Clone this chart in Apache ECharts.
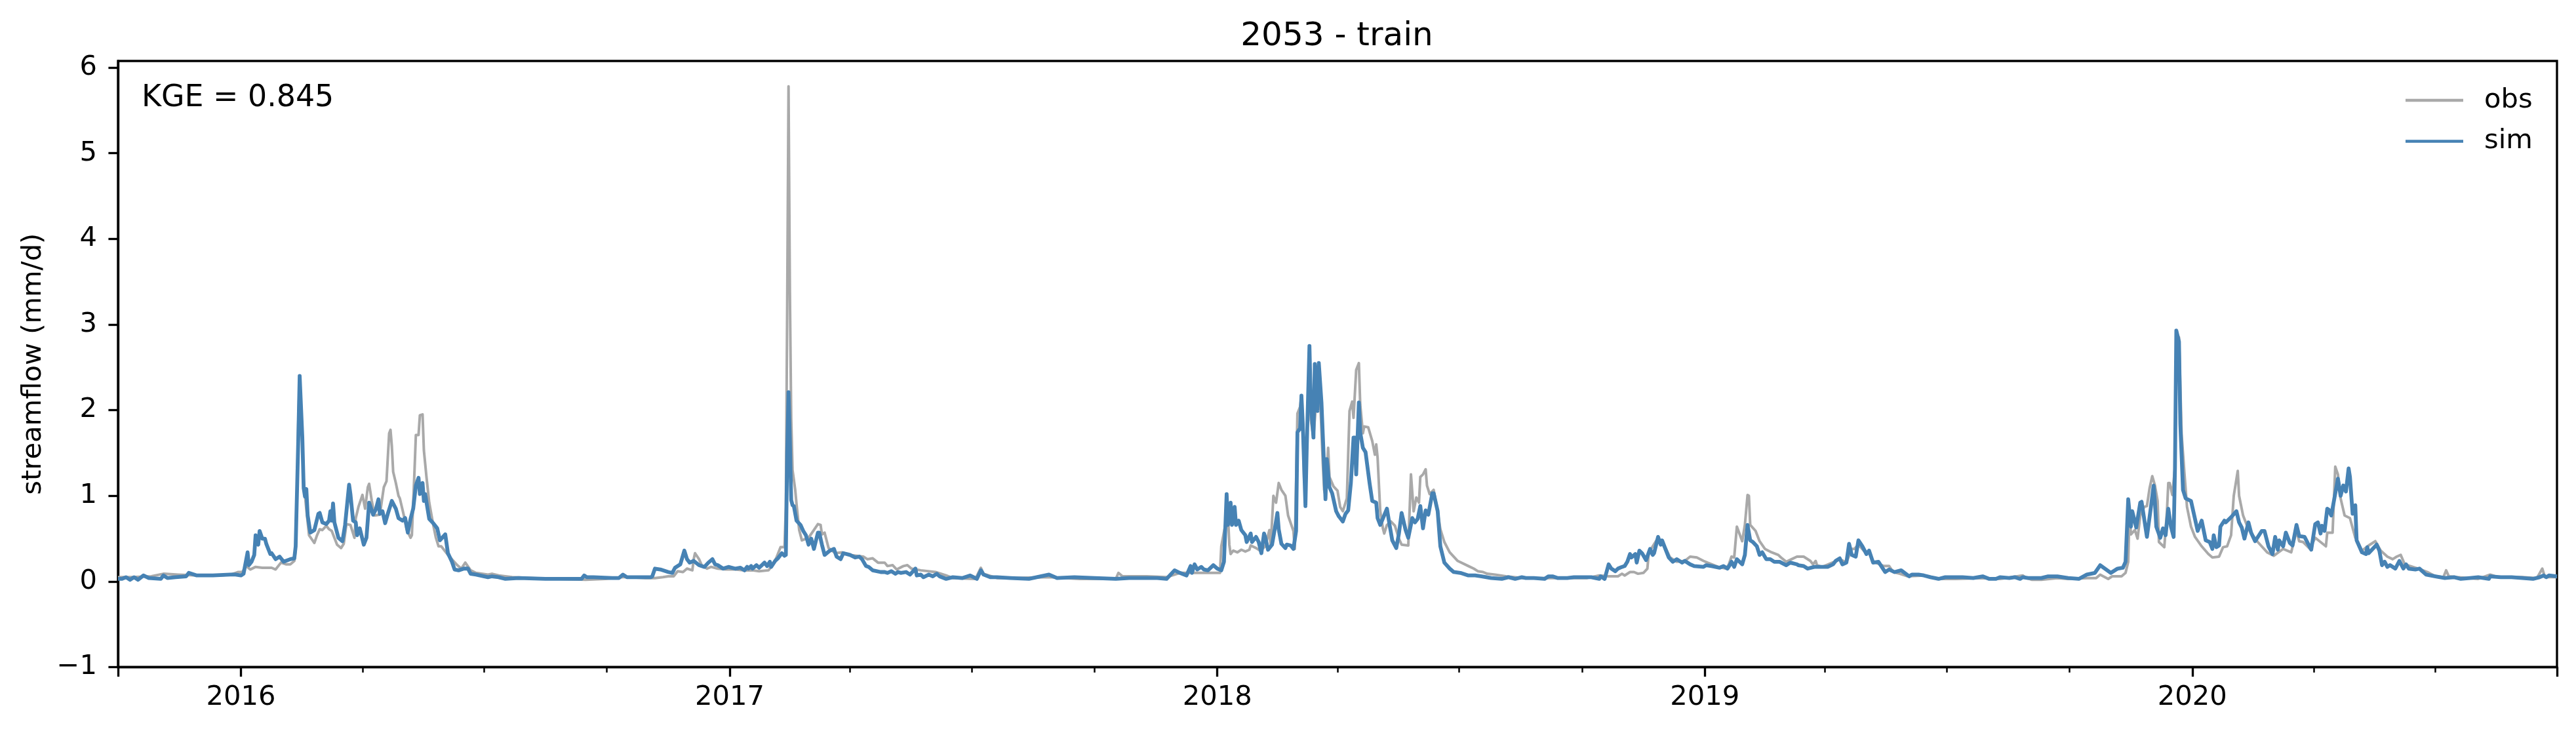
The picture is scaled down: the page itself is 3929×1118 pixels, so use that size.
<!DOCTYPE html>
<html>
<head>
<meta charset="utf-8">
<style>html,body{margin:0;padding:0;background:#fff}#chart{width:3929px;height:1118px}</style>
<script src="https://cdn.jsdelivr.net/npm/echarts@6/dist/echarts.min.js"></script>
</head>
<body>
<div id="chart"></div>
<script>
// readings from the picture: [days after 2015-10-01, streamflow mm/d]
const obsReadings = [
[0,.05],[10,.05],[25,.06],[34,.09],[45,.08],[60,.07],[75,.07],[84,.08],[88,.10],[90,.11],[93,.11],[96,.18],[99,.14],[103,.17],[108,.16],[115,.16],[118,.14],[122,.22],[126,.20],[129,.20],[132,.24],[133,.36],[134,1.0],[135,1.9],[136,2.38],[137,2.0],[139,1.17],[141,.84],[143,.54],[147,.45],[149,.54],[151,.61],[153,.60],[156,.65],[158,.61],[160,.59],[162,.51],[164,.43],[167,.39],[169,.44],[171,.67],[174,.66],[177,.51],[178,.74],[180,.87],[183,1.01],[185,.85],[187,1.10],[188,1.14],[190,.94],[192,.77],[196,.78],[199,1.10],[201,1.17],[203,1.73],[204,1.77],[205,1.58],[206,1.28],[208,1.15],[210,1.0],[211,.97],[214,.77],[216,.61],[219,.51],[220,.54],[222,1.30],[223,1.71],[225,1.71],[226,1.94],[228,1.95],[229,1.53],[231,1.21],[233,.92],[236,.66],[238,.51],[240,.41],[242,.41],[247,.31],[254,.19],[257,.15],[260,.22],[264,.13],[268,.10],[277,.08],[280,.09],
[285,.07],[295,.05],[310,.04],[330,.03],[350,.02],[365,.03],[378,.05],[381,.05],[395,.04],[402,.04],[408,.05],
[412,.06],[416,.06],[419,.12],[423,.11],[426,.15],[430,.13],[431,.26],[432,.33],[435,.26],[437,.19],[441,.15],[444,.17],[449,.15],[455,.14],[462,.14],[468,.13],[475,.13],[480,.12],[487,.13],[490,.19],[493,.28],[496,.40],[499,.40],[500,.87],[501,3.2],[502,5.78],[503,3.4],[504,1.9],[505,1.30],[507,1.07],[508,.9],[510,.60],[512,.48],[517,.51],[521,.60],[524,.67],[526,.66],[527,.55],[529,.57],[532,.39],[537,.33],[542,.34],[548,.31],[558,.29],[561,.26],[565,.27],[569,.22],[574,.22],[576,.18],[580,.19],[583,.14],[588,.18],[591,.19],[594,.15],[601,.13],[612,.11],[620,.07],[625,.04],[642,.03],[646,.16],[648,.09],[658,.04],
[668,.04],[697,.05],[720,.03],[747,.03],[749,.10],[752,.06],[770,.06],[785,.05],
[795,.10],[805,.10],[812,.10],[818,.10],[825,.10],[826,.41],[829,.66],[831,.77],[832,.43],[833,.32],[835,.36],[838,.34],[841,.37],[844,.35],[847,.37],[848,.42],[852,.39],[855,.36],[859,.41],[862,.60],[863,.41],[865,1.0],[867,.92],[869,1.15],[871,1.07],[874,1.0],[876,.77],[880,.59],[881,.38],[883,1.96],[885,2.04],[886,2.17],[887,1.86],[888,1.17],[889,1.37],[891,2.09],[892,2.35],[893,1.89],[895,1.68],[897,2.09],[900,2.14],[902,1.38],[903,1.07],[904,1.0],[906,1.56],[907,1.22],[910,1.11],[913,1.06],[915,.87],[917,.82],[920,.97],[922,1.99],[924,2.10],[925,1.91],[927,2.47],[929,2.55],[930,2.07],[932,1.73],[933,1.81],[936,1.80],[939,1.64],[941,1.48],[942,1.60],[943,1.45],[945,.82],[947,.62],[948,.56],[950,.66],[953,.70],[956,.65],[959,.50],[961,.43],[966,.42],[968,1.25],[970,.82],[972,.98],[974,.92],[975,1.22],[977,1.25],[979,1.31],[980,1.12],[982,1.02],[985,1.07],[988,.82],[990,.61],[993,.46],[997,.34],[1003,.24],
[1011,.18],[1015,.15],[1018,.12],[1022,.11],[1025,.09],[1031,.08],[1039,.06],[1052,.04],[1080,.04],[1100,.04],[1109,.07],[1116,.06],[1123,.06],[1126,.09],[1128,.07],[1132,.11],[1135,.11],[1138,.09],[1142,.10],[1145,.15],[1146,.33],[1149,.41],[1153,.51],[1155,.46],[1159,.38],[1162,.28],[1167,.23],[1173,.24],[1177,.29],[1182,.28],[1187,.24],[1190,.22],[1198,.17],[1204,.15],[1206,.20],[1208,.29],[1210,.28],[1212,.64],[1216,.47],[1218,.66],[1220,1.01],[1221,1.0],[1222,.66],[1226,.59],[1229,.47],[1233,.38],[1238,.34],[1243,.31],[1245,.28],[1249,.23],[1253,.26],[1257,.29],
[1262,.29],[1267,.24],[1269,.20],[1271,.24],[1272,.19],[1276,.17],[1285,.23],[1289,.26],[1294,.22],[1298,.38],[1300,.38],[1303,.43],[1307,.36],[1311,.33],[1314,.23],[1319,.20],[1322,.18],[1326,.18],[1329,.11],[1334,.09],[1340,.06],[1352,.07],[1363,.03],[1376,.03],[1394,.04],[1409,.03],[1426,.07],[1429,.04],
[1433,.02],[1440,.02],[1452,.04],[1460,.03],[1474,.04],[1481,.04],[1484,.08],[1490,.03],[1493,.06],[1500,.06],[1503,.10],[1505,.23],[1506,.82],[1507,.55],[1510,.60],[1512,.50],[1514,.77],[1517,.87],[1519,.88],[1521,1.09],[1523,1.23],[1525,1.12],[1527,.94],[1528,.46],[1532,.40],[1534,.82],[1535,1.15],[1536,1.15],[1538,1.01],[1540,1.33],[1541,2.88],[1543,2.85],[1545,1.71],[1547,1.28],[1549,.87],[1552,.64],[1555,.52],[1560,.41],[1565,.32],[1568,.28],[1573,.29],[1576,.40],[1579,.41],[1582,.54],[1584,1.0],[1587,1.29],[1588,1.0],[1591,.77],[1595,.61],[1602,.46],[1609,.34],[1614,.30],[1621,.38],[1627,.34],[1631,.59],[1633,.47],[1636,.46],[1641,.38],[1645,.51],[1653,.41],[1654,.57],
[1658,.57],[1660,1.34],[1662,1.25],[1664,.97],[1667,.77],[1671,.74],[1675,.51],[1677,.46],[1680,.36],[1685,.42],[1690,.47],[1694,.36],[1699,.29],[1703,.26],[1706,.29],[1709,.31],[1712,.20],[1718,.17],[1724,.14],[1729,.11],[1735,.06],[1741,.05],[1743,.13],[1745,.06],[1751,.05],[1767,.03],[1776,.08],[1782,.05],[1800,.05],[1811,.04],[1815,.15],[1817,.05],[1826,.05]
];
const simReadings = [
[0,.03],[3,.03],[6,.05],[9,.02],[12,.05],[15,.02],[19,.07],[23,.04],[32,.03],[34,.07],[37,.04],[43,.05],[51,.06],[53,.10],[59,.07],[71,.07],
[84,.08],[88,.08],[92,.07],[94,.09],[97,.34],[98,.19],[100,.23],[102,.31],[103,.54],[105,.43],[106,.59],[108,.50],[110,.50],[111,.44],[114,.32],[115,.33],[118,.26],[121,.29],[124,.23],[129,.26],[132,.27],[133,.41],[135,1.68],[136,2.40],[138,1.68],[139,1.09],[140,.99],[141,1.08],[142,.77],[144,.57],[147,.60],[150,.79],[151,.80],[153,.69],[156,.67],[158,.71],[159,.82],[160,.71],[161,.91],[162,.69],[165,.51],[168,.47],[170,.66],[173,1.13],[174,1.02],[176,.71],[178,.69],[179,.54],[181,.62],[184,.43],[186,.51],[188,.92],[191,.78],[193,.84],[195,.96],[196,.79],[198,.82],[200,.68],[202,.79],[205,.94],[208,.85],[210,.74],[213,.71],[215,.74],[217,.57],[219,.73],[221,.85],[223,1.12],[225,1.21],[226,1.02],[228,1.15],[229,.94],[230,1.02],[231,.92],[233,.73],[236,.68],[239,.62],[241,.48],[245,.55],[247,.33],[250,.23],[252,.14],[255,.13],[259,.15],[262,.15],[264,.09],[268,.08],[277,.05],[280,.06],
[285,.05],[290,.03],[300,.04],[320,.03],[335,.03],[347,.03],[349,.07],[351,.05],[356,.05],[370,.04],[375,.04],[378,.08],[381,.05],[390,.05],[399,.05],[400,.06],[402,.15],[406,.14],
[412,.11],[415,.10],[417,.16],[421,.20],[424,.36],[426,.26],[428,.22],[431,.24],[435,.19],[439,.17],[442,.22],[445,.26],[447,.20],[449,.19],[453,.15],[457,.17],[462,.15],[466,.16],[469,.13],[471,.17],[472,.15],[474,.18],[475,.15],[478,.19],[480,.16],[482,.19],[484,.22],[486,.18],[488,.23],[489,.17],[492,.24],[494,.27],[497,.33],[499,.30],[500,.31],[501,1.5],[502,2.21],[503,1.65],[504,.95],[505,.89],[506,.88],[508,.71],[511,.66],[513,.59],[515,.54],[517,.43],[519,.50],[521,.38],[524,.57],[525,.57],[527,.43],[529,.31],[533,.36],[536,.38],[538,.29],[541,.26],[543,.33],[548,.31],[552,.28],[555,.29],[557,.26],[560,.18],[562,.17],[565,.13],[571,.11],[574,.11],[576,.10],[579,.12],[582,.09],[584,.11],[586,.10],[590,.11],[593,.08],[597,.15],[598,.07],[601,.08],[603,.05],[607,.08],[610,.06],[613,.09],[615,.06],[620,.03],[625,.05],[632,.04],[638,.07],[643,.03],[646,.13],[648,.08],[653,.05],[658,.05],
[668,.04],[682,.03],[697,.08],[703,.04],[716,.05],[731,.04],[747,.03],[757,.04],[766,.04],[778,.04],[785,.03],[791,.13],
[795,.10],[800,.07],[803,.18],[804,.10],[806,.20],[808,.14],[811,.17],[813,.14],[816,.13],[820,.19],[823,.15],[826,.13],[828,.23],[830,1.02],[831,.66],[833,.92],[834,.66],[836,.87],[837,.66],[839,.71],[841,.60],[844,.54],[845,.46],[848,.56],[849,.46],[852,.52],[854,.46],[856,.33],[858,.56],[859,.51],[861,.37],[864,.43],[866,.61],[868,.80],[869,.61],[871,.44],[874,.39],[875,.43],[878,.42],[880,.38],[882,.59],[883,1.74],[885,1.79],[886,2.17],[887,1.84],[889,.88],[890,1.58],[892,2.75],[893,2.09],[895,1.68],[896,2.54],[898,1.99],[899,2.55],[901,2.09],[903,1.33],[904,.96],[905,1.43],[907,1.10],[909,1.03],[912,.82],[914,.76],[917,.70],[919,.79],[921,.83],[923,1.15],[925,1.68],[926,1.68],[927,1.25],[929,2.09],[930,1.74],[932,1.56],[934,1.51],[937,1.15],[939,.94],[942,.92],[943,.74],[945,.66],[950,.85],[952,.66],[954,.48],[957,.39],[959,.56],[961,.80],[964,.60],[966,.51],[969,.74],[971,.69],[973,.73],[975,.88],[977,.62],[979,.83],[981,.78],[984,1.03],[985,1.03],[988,.82],[990,.41],[993,.22],[997,.15],[1000,.11],[1005,.10],
[1011,.07],[1016,.07],[1021,.06],[1028,.04],[1036,.03],[1041,.05],[1046,.03],[1051,.05],[1054,.04],[1060,.04],[1068,.03],[1071,.06],[1074,.06],[1078,.04],[1085,.04],[1090,.05],[1096,.05],[1103,.05],[1109,.03],[1110,.06],[1113,.03],[1116,.20],[1118,.15],[1121,.12],[1123,.15],[1126,.17],[1128,.18],[1130,.23],[1132,.32],[1133,.28],[1136,.32],[1137,.22],[1139,.36],[1141,.33],[1144,.25],[1147,.38],[1149,.31],[1150,.33],[1153,.52],[1155,.43],[1156,.48],[1159,.36],[1161,.28],[1164,.23],[1167,.26],[1171,.22],[1173,.24],[1177,.20],[1180,.18],[1187,.17],[1189,.19],[1193,.18],[1199,.16],[1202,.18],[1205,.15],[1207,.20],[1208,.23],[1210,.17],[1212,.26],[1216,.20],[1218,.31],[1220,.66],[1222,.48],[1224,.46],[1227,.41],[1229,.31],[1231,.34],[1234,.26],[1237,.26],[1240,.23],[1244,.23],[1249,.19],[1252,.22],[1257,.20],
[1258,.19],[1262,.18],[1265,.15],[1270,.17],[1276,.17],[1280,.17],[1284,.20],[1286,.24],[1289,.27],[1291,.20],[1294,.22],[1296,.44],[1298,.31],[1301,.29],[1303,.48],[1306,.41],[1309,.32],[1311,.36],[1314,.22],[1318,.23],[1323,.11],[1326,.14],[1330,.11],[1335,.13],[1341,.06],[1343,.08],[1348,.08],[1352,.07],[1357,.05],[1363,.03],[1368,.05],[1376,.05],[1381,.05],[1389,.04],[1396,.06],[1401,.03],[1406,.03],[1409,.05],[1416,.04],[1420,.05],[1424,.03],[1426,.05],[1430,.04],
[1433,.04],[1440,.04],[1445,.06],[1452,.06],[1460,.04],[1468,.03],[1474,.08],[1480,.10],[1484,.19],[1492,.10],[1497,.15],[1501,.16],[1503,.23],[1505,.96],[1507,.64],[1508,.82],[1511,.63],[1514,.92],[1515,.93],[1519,.52],[1522,.87],[1524,1.12],[1525,.92],[1526,.64],[1529,.51],[1531,.62],[1533,.54],[1535,.85],[1537,.64],[1539,.52],[1540,1.33],[1541,2.93],[1543,2.80],[1544,1.84],[1546,1.07],[1548,.97],[1552,.94],[1554,.80],[1557,.59],[1560,.71],[1563,.48],[1566,.46],[1568,.38],[1569,.54],[1571,.40],[1573,.42],[1574,.64],[1577,.71],[1578,.69],[1582,.75],[1586,.82],[1588,.69],[1590,.63],[1592,.50],[1595,.69],[1597,.57],[1600,.47],[1605,.59],[1607,.59],[1610,.41],[1613,.32],[1615,.52],[1617,.37],[1618,.48],[1621,.41],[1623,.57],[1626,.45],[1628,.42],[1631,.66],[1633,.53],[1637,.52],[1642,.37],[1645,.67],[1647,.69],[1649,.56],[1650,.65],[1652,.59],[1654,.85],
[1655,.84],[1657,.77],[1659,.94],[1662,1.20],[1664,1.0],[1666,1.12],[1668,1.05],[1670,1.32],[1671,1.22],[1673,.79],[1675,.89],[1676,.48],[1680,.34],[1683,.32],[1684,.40],[1685,.33],[1688,.38],[1691,.43],[1693,.36],[1695,.19],[1697,.23],[1699,.17],[1701,.19],[1705,.15],[1708,.24],[1711,.15],[1713,.20],[1715,.15],[1720,.14],[1723,.15],[1728,.08],[1735,.06],[1742,.04],[1749,.05],[1754,.03],[1761,.04],[1767,.05],[1775,.03],[1776,.06],[1784,.05],[1792,.05],[1800,.04],[1808,.03],[1813,.05],[1816,.07],[1818,.05],[1820,.07],[1826,.06]
];
const yearTicks = ['2016-01-01','2017-01-01','2018-01-01','2019-01-01','2020-01-01'];
const edgeTicks = ['2015-10-01','2020-09-30'];
const quarterTicks = ['2016-04-01','2016-07-01','2016-10-01','2017-04-01','2017-07-01','2017-10-01','2018-04-01','2018-07-01','2018-10-01','2019-04-01','2019-07-01','2019-10-01','2020-04-01','2020-07-01'];
const yTicks = [-1,0,1,2,3,4,5,6];
const seriesNames = ['obs','sim'];
const titleText = '2053 - train';
const yName = 'streamflow (mm/d)';
const kgeText = 'KGE = 0.845';

const FONT = '"DejaVu Sans"';
const t = s => Date.parse(s + 'T00:00:00Z');
const START = t('2015-10-01');
const toSeries = r => r.map(p => [START + p[0] * 864e5, p[1]]);
const xMin = t(edgeTicks[0]), xMax = t(edgeTicks[1]);
const chart = echarts.init(document.getElementById('chart'), null, {renderer:'canvas', width:3929, height:1118});
const hideAxisBits = {axisLine:{show:false, onZero:false}, axisLabel:{show:false}, splitLine:{show:false}};
chart.setOption({
  animation:false,
  backgroundColor:'#fff',
  title:{text:titleText, left:2034, top:26, textAlign:'center',
    textStyle:{fontFamily:FONT, fontSize:50, fontWeight:'normal', color:'#000'}},
  grid:{left:180, right:29, top:93, bottom:100.5, show:true, borderColor:'#000', borderWidth:3.33, backgroundColor:'transparent', containLabel:false},
  legend:{left:3664, top:127, orient:'vertical', itemWidth:88, itemHeight:4.5, itemGap:20.5, icon:'rect',
    data:seriesNames,
    textStyle:{fontFamily:FONT, fontSize:41.67, color:'#000', padding:[0,0,0,27]}},
  xAxis:[
    {type:'value', min:xMin, max:xMax, position:'bottom', scale:true,
     axisLine:{show:true, onZero:false, lineStyle:{color:'#000', width:3.33}},
     axisTick:{show:true, length:14.6, lineStyle:{color:'#000', width:3.33}, customValues:[...edgeTicks, ...yearTicks].map(t)},
     axisLabel:{show:true, margin:26, fontFamily:FONT, fontSize:41.67, color:'#000',
       customValues:yearTicks.map(t), formatter:v => String(new Date(v).getUTCFullYear()), hideOverlap:false},
     splitLine:{show:false}},
    {type:'value', min:xMin, max:xMax, position:'bottom', scale:true, ...hideAxisBits,
     axisTick:{show:true, length:8.3, lineStyle:{color:'#000', width:2.5}, customValues:quarterTicks.map(t)}}
  ],
  yAxis:{type:'value', min:-1, max:6.077,
    name:yName, nameLocation:'middle', nameGap:108, nameRotate:90,
    nameTextStyle:{fontFamily:FONT, fontSize:41.67, color:'#000'},
    axisLine:{show:true, onZero:false, lineStyle:{color:'#000', width:3.33}},
    axisTick:{show:true, length:14.6, lineStyle:{color:'#000', width:3.33}, customValues:yTicks},
    axisLabel:{show:true, margin:32, fontFamily:FONT, fontSize:41.67, color:'#000', customValues:yTicks,
      formatter:v => String(v).replace('-', '\u2212')},
    splitLine:{show:false}},
  series:[
    {name:seriesNames[0], type:'line', xAxisIndex:0, data:toSeries(obsReadings), showSymbol:false, symbol:'none',
     lineStyle:{color:'#a9a9a9', width:4, join:'round'}, itemStyle:{color:'#a9a9a9'}, z:2, clip:true},
    {name:seriesNames[1], type:'line', xAxisIndex:0, data:toSeries(simReadings), showSymbol:false, symbol:'none',
     lineStyle:{color:'#4682b4', width:5.8, join:'round'}, itemStyle:{color:'#4682b4'}, z:3, clip:true}
  ],
  graphic:[{type:'text', left:216, top:127, silent:true,
    style:{text:kgeText, fontFamily:FONT, fontSize:45.83, fill:'#000'}}]
});
</script>
</body>
</html>
